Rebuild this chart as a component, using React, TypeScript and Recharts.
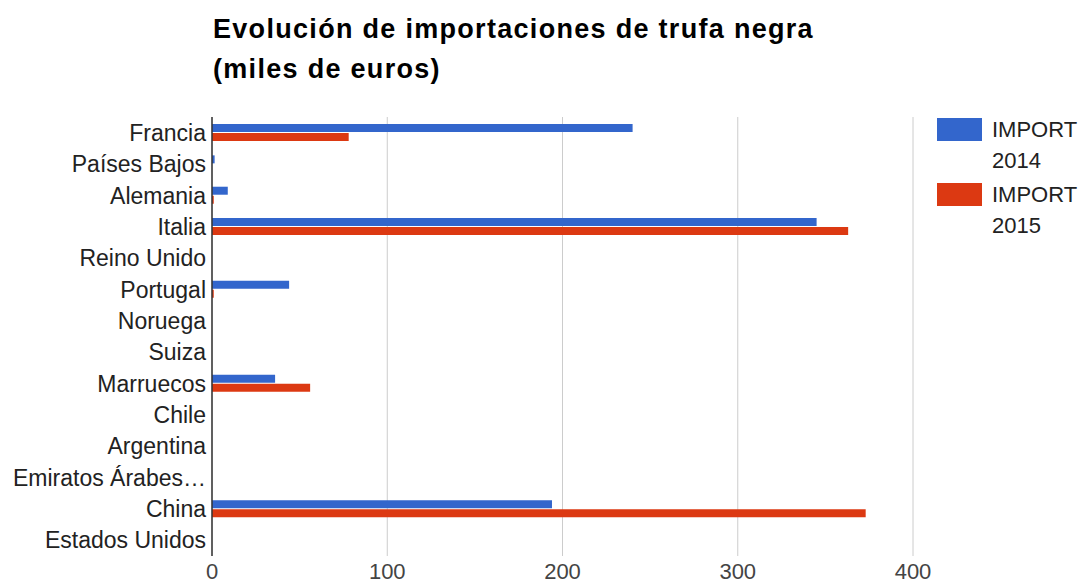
import React from "react";
import { BarChart, Bar, XAxis, YAxis, CartesianGrid, Legend } from "recharts";

const categories = [
  "Francia",
  "Países Bajos",
  "Alemania",
  "Italia",
  "Reino Unido",
  "Portugal",
  "Noruega",
  "Suiza",
  "Marruecos",
  "Chile",
  "Argentina",
  "Emiratos Árabes…",
  "China",
  "Estados Unidos",
];
const import2014 = [240, 1.5, 9, 345, 0, 44, 0, 0, 36, 0, 0, 0, 194, 0];
const import2015 = [78, 0, 1, 363, 0, 1, 0, 0, 56, 0, 0, 0, 373, 0];
const xTicks = [0, 100, 200, 300, 400];

const seriesInfo = [
  { key: "import2014", label: ["IMPORT", "2014"], color: "#3366cc" },
  { key: "import2015", label: ["IMPORT", "2015"], color: "#dc3912" },
];

const data = categories.map((c, i) => ({
  name: c,
  import2014: import2014[i],
  import2015: import2015[i],
}));

const FONT = "'Liberation Sans', Arial, sans-serif";

const LegendContent = () => (
  <div style={{ fontFamily: FONT }}>
    {seriesInfo.map((s) => (
      <div key={s.key} style={{ position: "relative", height: 65 }}>
        <div
          style={{
            position: "absolute",
            left: 0,
            top: 0,
            width: 45,
            height: 23,
            background: s.color,
          }}
        />
        <div
          style={{
            position: "absolute",
            left: 55,
            top: -4,
            fontSize: 22,
            lineHeight: "31px",
            color: "#222",
            whiteSpace: "nowrap",
          }}
        >
          {s.label.map((l) => (
            <div key={l}>{l}</div>
          ))}
        </div>
      </div>
    ))}
  </div>
);

export default function App() {
  return (
    <div
      style={{
        position: "absolute",
        left: 0,
        top: 0,
        width: 1080,
        height: 583,
        background: "#fff",
        fontFamily: FONT,
        overflow: "hidden",
      }}
    >
      <div
        style={{
          position: "absolute",
          left: 213,
          top: 9,
          fontSize: 27,
          fontWeight: "bold",
          lineHeight: "40px",
          letterSpacing: "1.3px",
          color: "#000",
          whiteSpace: "nowrap",
        }}
      >
        <div>Evolución de importaciones de trufa negra</div>
        <div>(miles de euros)</div>
      </div>
      <BarChart
        width={1080}
        height={583}
        data={data}
        layout="vertical"
        margin={{ top: 117, right: 167, bottom: 0, left: 0 }}
        barSize={8}
        barGap={1}
      >
        <CartesianGrid horizontal={false} vertical={true} stroke="#cccccc" />
        <XAxis
          type="number"
          domain={[0, 400]}
          ticks={xTicks}
          height={27}
          axisLine={false}
          tickLine={false}
          tickSize={5}
          tickMargin={2}
          tick={{ fill: "#444", fontSize: 22, fontFamily: FONT }}
          interval={0}
        />
        <YAxis
          type="category"
          dataKey="name"
          width={212}
          axisLine={{ stroke: "#333", strokeWidth: 1.5 }}
          tickLine={false}
          tickSize={4}
          tickMargin={2}
          interval={0}
          tick={{ fill: "#222", fontSize: 23, fontFamily: FONT }}
        />
        <Legend
          layout="vertical"
          verticalAlign="middle"
          align="center"
          content={<LegendContent />}
          wrapperStyle={{ left: 937, top: 118, width: 143, height: 130 }}
        />
        {seriesInfo.map((s) => (
          <Bar
            key={s.key}
            dataKey={s.key}
            fill={s.color}
            isAnimationActive={false}
          />
        ))}
      </BarChart>
    </div>
  );
}
